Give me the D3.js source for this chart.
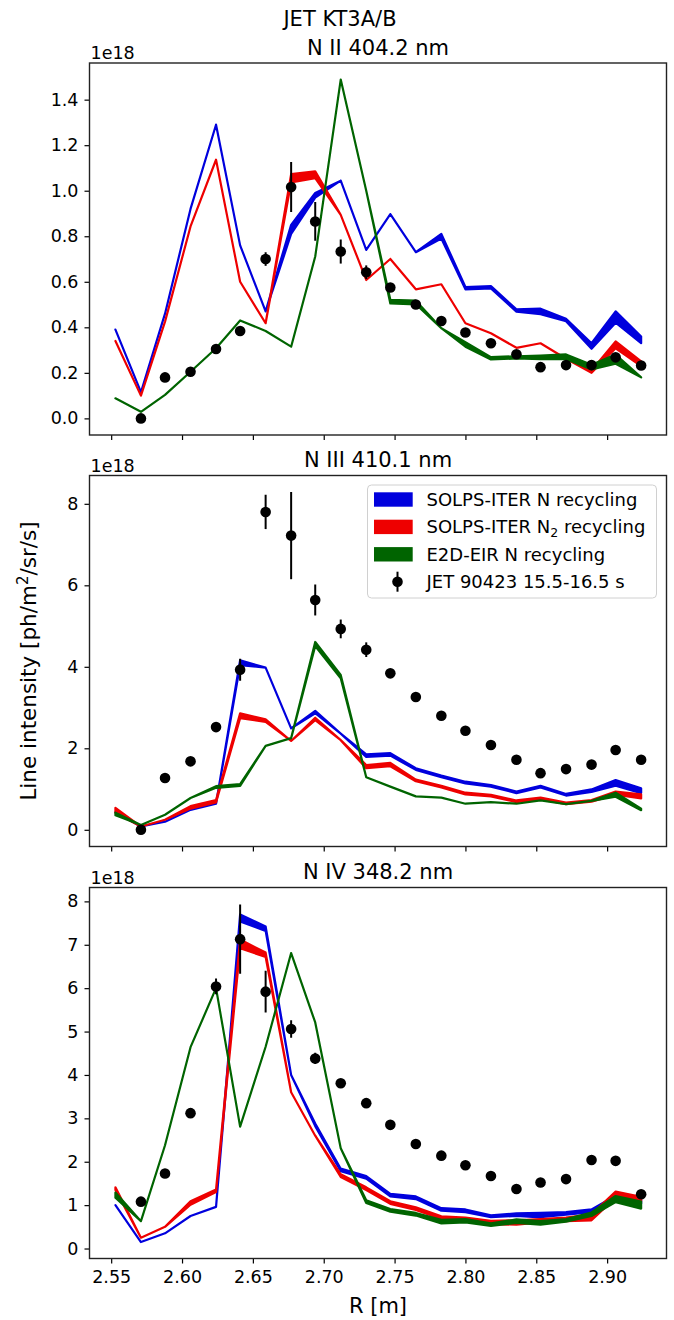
<!DOCTYPE html>
<html>
<head>
<meta charset="utf-8">
<script src="https://cdn.jsdelivr.net/npm/d3@7"></script>
<style>
  body { margin: 0; background: #fff; }
  svg text { font-family: "DejaVu Sans", sans-serif; fill: #000; }
</style>
</head>
<body>
<script>
// major radius of each line of sight [m]
const R = [2.553, 2.571, 2.588, 2.606, 2.624, 2.641, 2.659, 2.677, 2.694, 2.712, 2.730,
           2.747, 2.765, 2.783, 2.800, 2.818, 2.836, 2.853, 2.871, 2.889, 2.906, 2.924];
// experimental points start from the second line of sight
const R_exp = R.slice(1);

const xTicks = [2.55, 2.60, 2.65, 2.70, 2.75, 2.80, 2.85, 2.90];

// ---- N II 404.2 nm (1e18 ph/m2/sr/s) ----
const nii_solpsN    = [0.39, 0.115, 0.46, 0.92, 1.29, 0.76, 0.47, 0.83, 0.98, 1.044, 0.74, 0.897, 0.73, 0.80, 0.572, 0.576, 0.474, 0.47, 0.432, 0.318, 0.445, 0.345];
const nii_solpsN_w  = [0, 0, 0, 0, 0, 0, 0, 0.02, 0.01, 0, 0, 0, 0, 0.01, 0.005, 0.005, 0.005, 0.012, 0.005, 0.012, 0.025, 0.015];
const nii_solpsN2   = [0.34, 0.10, 0.425, 0.843, 1.136, 0.60, 0.418, 1.055, 1.07, 0.894, 0.608, 0.70, 0.567, 0.589, 0.418, 0.374, 0.31, 0.33, 0.262, 0.205, 0.323, 0.24];
const nii_solpsN2_w = [0, 0, 0, 0, 0, 0, 0, 0.018, 0.015, 0, 0, 0, 0, 0, 0, 0, 0, 0, 0, 0.005, 0.015, 0.01];
const nii_e2d       = [0.088, 0.029, 0.103, 0.205, 0.308, 0.43, 0.384, 0.315, 0.711, 1.488, 1.0, 0.513, 0.509, 0.396, 0.325, 0.264, 0.268, 0.268, 0.271, 0.225, 0.26, 0.18];
const nii_e2d_w     = [0, 0, 0, 0, 0, 0, 0, 0, 0, 0, 0, 0.008, 0.008, 0, 0.01, 0.005, 0.005, 0.008, 0.01, 0.01, 0.02, 0];
const nii_exp       = [0.0, 0.18, 0.205, 0.305, 0.384, 0.70, 1.016, 0.865, 0.733, 0.642, 0.575, 0.50, 0.428, 0.377, 0.33, 0.282, 0.225, 0.234, 0.234, 0.268, 0.232];
const nii_err       = [0.01, 0.01, 0.01, 0.01, 0.01, 0.03, 0.11, 0.085, 0.053, 0.03, 0.01, 0.01, 0.01, 0.01, 0.01, 0.01, 0.01, 0.01, 0.01, 0.01, 0.01];

// ---- N III 410.1 nm ----
const niii_solpsN    = [0.43, 0.08, 0.2, 0.49, 0.64, 4.1, 3.98, 2.49, 2.89, 2.36, 1.82, 1.85, 1.49, 1.31, 1.16, 1.08, 0.92, 1.06, 0.86, 0.96, 1.15, 0.96];
const niii_solpsN_w  = [0, 0, 0, 0, 0, 0.06, 0, 0, 0.03, 0, 0.03, 0.03, 0.02, 0.02, 0.02, 0.02, 0.02, 0.02, 0.02, 0.03, 0.07, 0.06];
const niii_solpsN2   = [0.48, 0.08, 0.245, 0.55, 0.7, 2.8, 2.68, 2.18, 2.72, 2.2, 1.55, 1.6, 1.21, 1.06, 0.89, 0.84, 0.7, 0.77, 0.65, 0.71, 0.9, 0.82];
const niii_solpsN2_w = [0.06, 0, 0, 0.03, 0.03, 0.06, 0.03, 0, 0.03, 0, 0.04, 0.04, 0.02, 0.02, 0.02, 0.02, 0.02, 0.02, 0.02, 0.02, 0.04, 0.05];
const niii_e2d       = [0.39, 0.12, 0.37, 0.78, 1.05, 1.1, 2.06, 2.25, 4.56, 3.76, 1.29, 1.06, 0.82, 0.79, 0.64, 0.68, 0.64, 0.72, 0.63, 0.71, 0.86, 0.5];
const niii_e2d_w     = [0.03, 0, 0, 0, 0.02, 0.02, 0, 0, 0.05, 0.04, 0, 0, 0, 0, 0, 0, 0, 0, 0, 0, 0.05, 0.02];
const niii_exp       = [0.0, 1.27, 1.68, 2.52, 3.93, 7.8, 7.22, 5.64, 4.93, 4.42, 3.84, 3.26, 2.80, 2.43, 2.08, 1.72, 1.39, 1.49, 1.6, 1.96, 1.72];
const niii_err       = [0.05, 0.05, 0.05, 0.05, 0.27, 0.42, 1.07, 0.38, 0.23, 0.18, 0.11, 0.05, 0.05, 0.05, 0.05, 0.05, 0.05, 0.05, 0.05, 0.05, 0.05];

// ---- N IV 348.2 nm ----
const niv_solpsN    = [1.0, 0.15, 0.35, 0.75, 0.96, 7.62, 7.37, 4.0, 2.85, 1.81, 1.64, 1.23, 1.17, 0.9, 0.87, 0.745, 0.78, 0.77, 0.81, 0.87, 1.17, 1.08];
const niv_solpsN_w  = [0, 0, 0, 0, 0, 0.08, 0.05, 0, 0.03, 0.03, 0.03, 0.03, 0.03, 0.03, 0.03, 0.02, 0.03, 0.05, 0.03, 0.03, 0.05, 0.04];
const niv_solpsN2   = [1.38, 0.25, 0.5, 1.05, 1.33, 7.02, 6.77, 3.6, 2.6, 1.68, 1.38, 1.06, 0.92, 0.71, 0.68, 0.6, 0.6, 0.64, 0.67, 0.72, 1.24, 1.14];
const niv_solpsN2_w = [0.03, 0, 0, 0.04, 0.03, 0.1, 0.05, 0, 0, 0.03, 0.03, 0.03, 0.03, 0.03, 0.03, 0.04, 0.05, 0.04, 0.04, 0.07, 0.07, 0.05];
const niv_e2d       = [1.23, 0.63, 2.38, 4.64, 6.0, 2.81, 4.65, 6.81, 5.21, 2.31, 1.08, 0.88, 0.79, 0.62, 0.64, 0.55, 0.63, 0.59, 0.65, 0.79, 1.14, 1.0];
const niv_e2d_w     = [0.06, 0, 0, 0, 0, 0, 0, 0, 0, 0, 0.03, 0.03, 0.03, 0.04, 0.04, 0.03, 0.04, 0.04, 0.03, 0.04, 0.07, 0.08];
const niv_exp       = [1.08, 1.73, 3.12, 6.04, 7.13, 5.92, 5.06, 4.38, 3.81, 3.35, 2.85, 2.41, 2.14, 1.92, 1.67, 1.37, 1.52, 1.6, 2.04, 2.02, 1.25];
const niv_err       = [0.05, 0.05, 0.05, 0.18, 0.8, 0.48, 0.2, 0.13, 0.05, 0.05, 0.05, 0.05, 0.05, 0.05, 0.05, 0.05, 0.05, 0.05, 0.05, 0.05, 0.05];

const colors = { solpsN: '#0000dd', solpsN2: '#ee0000', e2d: '#006400' };

const width = 674, height = 1320;
const left = 89.5, right = 666.5;

const panels = [
  { title: 'N II 404.2 nm', top: 63, bottom: 435, yDomain: [-0.073, 1.561],
    yTicks: [0, 0.2, 0.4, 0.6, 0.8, 1.0, 1.2, 1.4], fmt: d3.format('.1f'),
    models: [[nii_solpsN, nii_solpsN_w, colors.solpsN], [nii_solpsN2, nii_solpsN2_w, colors.solpsN2], [nii_e2d, nii_e2d_w, colors.e2d]],
    exp: nii_exp, err: nii_err },
  { title: 'N III 410.1 nm', top: 475.5, bottom: 846.5, yDomain: [-0.41, 8.695],
    yTicks: [0, 2, 4, 6, 8], fmt: d3.format('d'),
    models: [[niii_solpsN, niii_solpsN_w, colors.solpsN], [niii_solpsN2, niii_solpsN2_w, colors.solpsN2], [niii_e2d, niii_e2d_w, colors.e2d]],
    exp: niii_exp, err: niii_err, legend: true },
  { title: 'N IV 348.2 nm', top: 887.5, bottom: 1258.5, yDomain: [-0.23, 8.32],
    yTicks: [0, 1, 2, 3, 4, 5, 6, 7, 8], fmt: d3.format('d'),
    models: [[niv_solpsN, niv_solpsN_w, colors.solpsN], [niv_solpsN2, niv_solpsN2_w, colors.solpsN2], [niv_e2d, niv_e2d_w, colors.e2d]],
    exp: niv_exp, err: niv_err, xLabels: true }
];

const svg = d3.select('body').append('svg')
  .attr('width', width)
  .attr('height', height)
  .attr('viewBox', [0, 0, width, height]);

const x = d3.scaleLinear().domain([2.5347, 2.9419]).range([left, right]);

svg.append('text')
  .attr('x', 340).attr('y', 26)
  .attr('text-anchor', 'middle')
  .attr('font-size', 21)
  .text('JET KT3A/B');

panels.forEach((p, k) => {
  const y = d3.scaleLinear().domain(p.yDomain).range([p.bottom, p.top]);
  const g = svg.append('g');

  // clip to axes box
  const clipId = 'clip' + k;
  g.append('clipPath').attr('id', clipId)
    .append('rect').attr('x', left).attr('y', p.top).attr('width', right - left).attr('height', p.bottom - p.top);

  const plot = g.append('g').attr('clip-path', `url(#${clipId})`);

  // model bands (spread of the simulation cases)
  p.models.forEach(([mid, w, c]) => {
    const area = d3.area()
      .x((d, i) => x(R[i]))
      .y0((d, i) => y(mid[i] - w[i]))
      .y1((d, i) => y(mid[i] + w[i]));
    plot.append('path')
      .attr('d', area(mid))
      .attr('fill', c)
      .attr('stroke', c)
      .attr('stroke-width', 2.2)
      .attr('stroke-linejoin', 'round');
  });

  // experimental data with error bars
  const pts = plot.append('g');
  pts.selectAll('line')
    .data(p.exp)
    .join('line')
    .attr('x1', (d, i) => x(R_exp[i]))
    .attr('x2', (d, i) => x(R_exp[i]))
    .attr('y1', (d, i) => y(d - p.err[i]))
    .attr('y2', (d, i) => y(d + p.err[i]))
    .attr('stroke', '#000')
    .attr('stroke-width', 2);
  pts.selectAll('circle')
    .data(p.exp)
    .join('circle')
    .attr('cx', (d, i) => x(R_exp[i]))
    .attr('cy', d => y(d))
    .attr('r', 5.3)
    .attr('fill', '#000');

  // axes
  const yAxis = g.append('g')
    .attr('transform', `translate(${left},0)`)
    .call(d3.axisLeft(y).tickValues(p.yTicks).tickFormat(p.fmt).tickSize(5).tickPadding(6));
  yAxis.select('.domain').remove();
  yAxis.selectAll('text').attr('font-size', 17.5).attr('font-family', '"DejaVu Sans", sans-serif');
  yAxis.selectAll('line').attr('stroke-width', 1.2);

  const xAxis = g.append('g')
    .attr('transform', `translate(0,${p.bottom})`)
    .call(d3.axisBottom(x).tickValues(xTicks)
      .tickFormat(p.xLabels ? d3.format('.2f') : '').tickSize(5).tickPadding(7));
  xAxis.select('.domain').remove();
  xAxis.selectAll('text').attr('font-size', 17.5).attr('font-family', '"DejaVu Sans", sans-serif');
  xAxis.selectAll('line').attr('stroke-width', 1.2);

  g.append('rect')
    .attr('x', left).attr('y', p.top)
    .attr('width', right - left).attr('height', p.bottom - p.top)
    .attr('fill', 'none').attr('stroke', '#222').attr('stroke-width', 1.4);

  g.append('text')
    .attr('x', (left + right) / 2).attr('y', p.top - 8.5)
    .attr('text-anchor', 'middle')
    .attr('font-size', 21)
    .text(p.title);

  g.append('text')
    .attr('x', left + 1).attr('y', p.top - 4)
    .attr('font-size', 17.5)
    .text('1e18');

  if (p.legend) {
    const lg = g.append('g').attr('transform', 'translate(367.5,485)');
    lg.append('rect')
      .attr('width', 289).attr('height', 113)
      .attr('rx', 4)
      .attr('fill', '#fff').attr('fill-opacity', 0.8)
      .attr('stroke', '#d0d0d0').attr('stroke-width', 1);
    const items = [
      { c: colors.solpsN, label: ['SOLPS-ITER N recycling'] },
      { c: colors.solpsN2, label: ['SOLPS-ITER N', '2', ' recycling'] },
      { c: colors.e2d, label: ['E2D-EIR N recycling'] },
      { c: null, label: ['JET 90423 15.5-16.5 s'] }
    ];
    items.forEach((it, j) => {
      const cy = 14.5 + j * 27.4;
      if (it.c) {
        lg.append('rect')
          .attr('x', 6.5).attr('y', cy - 7.2)
          .attr('width', 38.7).attr('height', 14.4)
          .attr('fill', it.c);
      } else {
        lg.append('line')
          .attr('x1', 30).attr('x2', 30)
          .attr('y1', cy - 10).attr('y2', cy + 10)
          .attr('stroke', '#000').attr('stroke-width', 2);
        lg.append('circle').attr('cx', 30).attr('cy', cy).attr('r', 5.3).attr('fill', '#000');
      }
      const t = lg.append('text')
        .attr('x', 59).attr('y', cy + 6.5)
        .attr('font-size', 18);
      it.label.forEach((s, n) => {
        const ts = t.append('tspan').text(s);
        if (it.label.length > 1 && n === 1) {
          ts.attr('font-size', 12.5).attr('dy', 4);
        } else if (it.label.length > 1 && n === 2) {
          ts.attr('dy', -4);
        }
      });
    });
  }
});

// y label centered on the middle panel
const midY = (panels[1].top + panels[1].bottom) / 2;
const ylab = svg.append('text')
  .attr('transform', `translate(36,${midY}) rotate(-90)`)
  .attr('text-anchor', 'middle')
  .attr('font-size', 21.5);
ylab.append('tspan').text('Line intensity [ph/m');
ylab.append('tspan').text('2').attr('font-size', 15).attr('dy', -8);
ylab.append('tspan').text('/sr/s]').attr('dy', 8);

svg.append('text')
  .attr('x', (left + right) / 2).attr('y', 1313)
  .attr('text-anchor', 'middle')
  .attr('font-size', 21)
  .text('R [m]');
</script>
</body>
</html>
